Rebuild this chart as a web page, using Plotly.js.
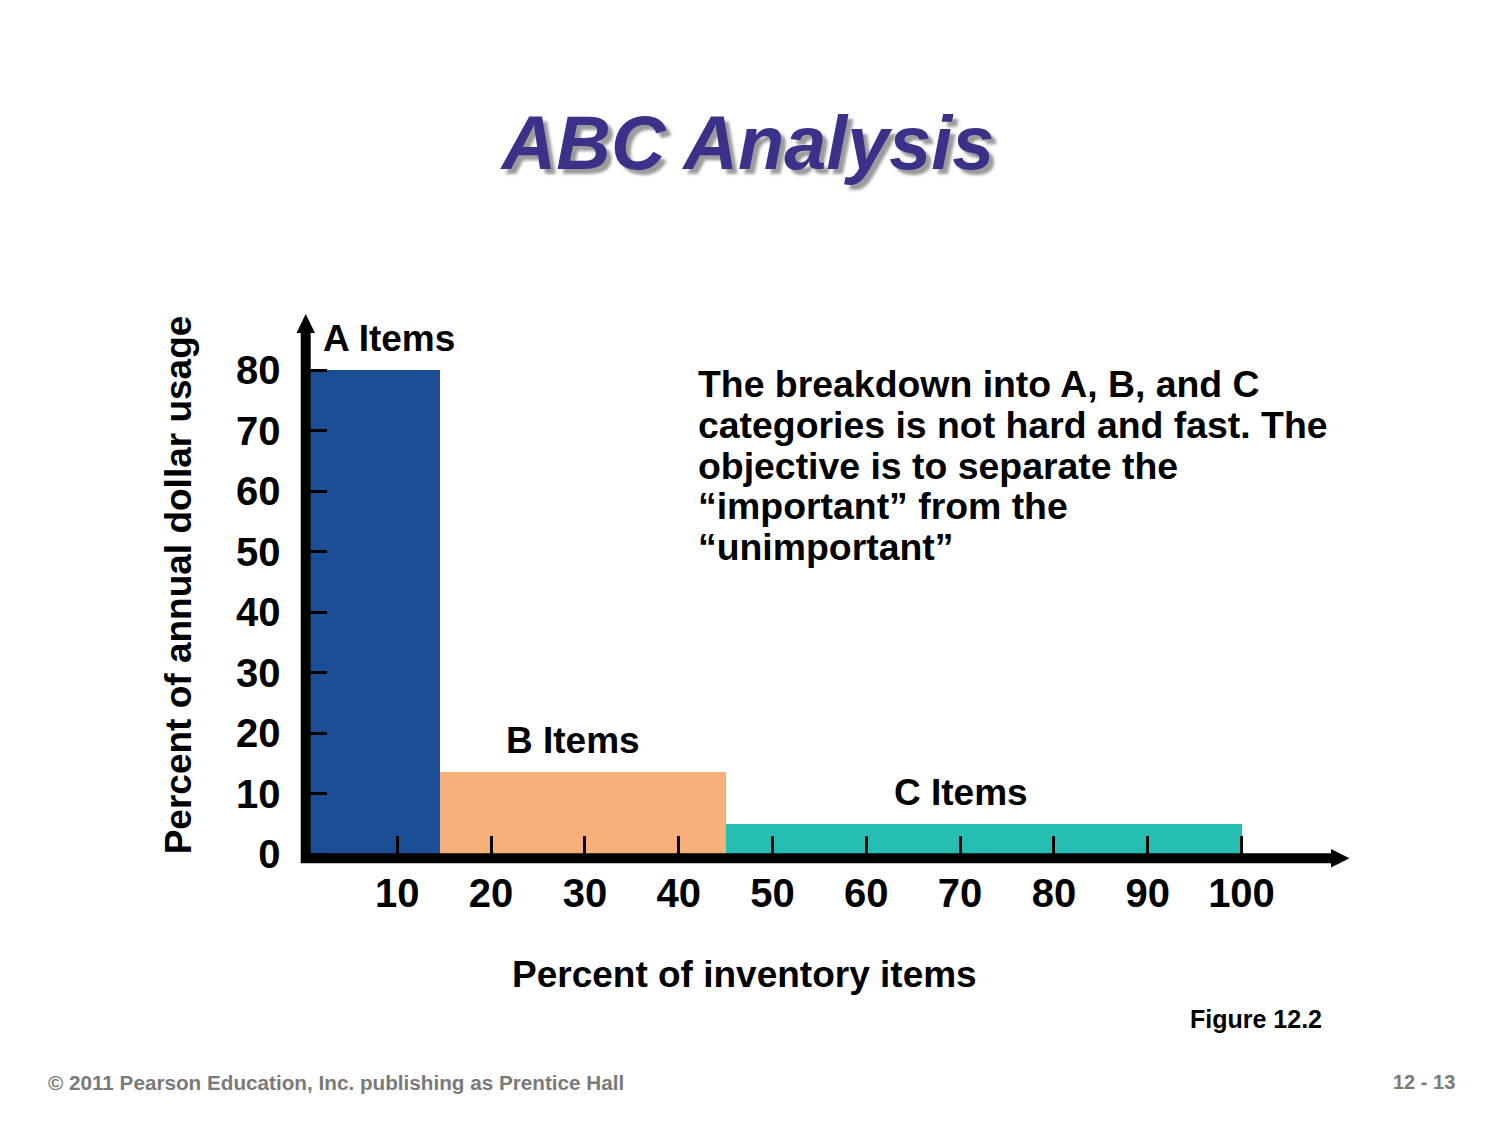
<!DOCTYPE html>
<html>
<head>
<meta charset="utf-8">
<script src="https://cdn.plot.ly/plotly-3.0.1.min.js"></script>
<style>html,body{margin:0;padding:0;background:#fff;}#chart{width:1500px;height:1125px;}</style>
</head>
<body>
<div id="chart"></div>
<script>
// ---- data ----
const groups = ['A Items', 'B Items', 'C Items'];
const boundaries = [0, 14.5, 45, 100];          // percent of inventory items (cumulative)
const usage = [80, 13.5, 5];                    // percent of annual dollar usage
const barColors = ['#1b4e94', '#f8b07a', '#26bdb2'];
const xTickVals = [10, 20, 30, 40, 50, 60, 70, 80, 90, 100];
const xTickText = ['10', '20', '30', '40', '50', '60', '70', '80', '90', '100'];
const yTickVals = [0, 10, 20, 30, 40, 50, 60, 70, 80];
const yTickText = ['0', '10', '20', '30', '40', '50', '60', '70', '80'];
const noteLines = [
  'The breakdown into A, B, and C',
  'categories is not hard and fast. The',
  'objective is to separate the',
  '\u201cimportant\u201d from the',
  '\u201cunimportant\u201d'
];

// ---- geometry helpers (pixel layout) ----
const L = 290, T = 300, W = 1070, H = 570;
const X0 = 303.5, XPU = 9.38, Y0 = 854, YPU = 6.05;
const dx = px => (px - X0) / XPU;
const dy = py => (Y0 - py) / YPU;
const pX = px => (px - L) / W;
const pY = py => (T + H - py) / H;

const FONT = 'Liberation Sans, Arial, sans-serif';

const centers = usage.map((_, i) => (boundaries[i] + boundaries[i + 1]) / 2);
const widths = usage.map((_, i) => boundaries[i + 1] - boundaries[i]);

const trace = {
  type: 'bar',
  x: centers,
  y: usage,
  width: widths,
  text: groups,
  textposition: 'none',
  marker: { color: barColors, line: { width: 0 } },
  hoverinfo: 'none',
  showlegend: false
};

const labelPos = [
  { x: 321, y: 338, anchor: 'left' },
  { x: 573, y: 740, anchor: 'center' },
  { x: 961, y: 792, anchor: 'center' }
];

const annotations = [];
groups.forEach((g, i) => {
  annotations.push({
    xref: 'paper', yref: 'paper', x: pX(labelPos[i].x), y: pY(labelPos[i].y),
    xanchor: labelPos[i].anchor, yanchor: 'middle', showarrow: false,
    text: g, font: { family: FONT, size: 37, color: '#000', weight: 'bold' }
  });
});
noteLines.forEach((t, i) => {
  annotations.push({
    xref: 'paper', yref: 'paper', x: pX(696), y: pY(384 + i * 40.8),
    xanchor: 'left', yanchor: 'middle', showarrow: false, align: 'left',
    text: t, font: { family: FONT, size: 37.4, color: '#000', weight: 'bold' }
  });
});
annotations.push({
  xref: 'paper', yref: 'paper', x: pX(744), y: pY(974),
  xanchor: 'center', yanchor: 'middle', showarrow: false,
  text: 'Percent of inventory items', font: { family: FONT, size: 37, color: '#000', weight: 'bold' }
});
annotations.push({
  xref: 'paper', yref: 'paper', x: pX(1324), y: pY(1019),
  xanchor: 'right', yanchor: 'middle', showarrow: false,
  text: 'Figure 12.2', font: { family: FONT, size: 25, color: '#000', weight: 'bold' }
});
annotations.push({
  xref: 'paper', yref: 'paper', x: pX(46), y: pY(1082),
  xanchor: 'left', yanchor: 'middle', showarrow: false,
  text: '\u00a9 2011 Pearson Education, Inc. publishing as Prentice Hall',
  font: { family: FONT, size: 20.7, color: '#7a7a7a', weight: 'bold' }
});
annotations.push({
  xref: 'paper', yref: 'paper', x: pX(1457), y: pY(1082),
  xanchor: 'right', yanchor: 'middle', showarrow: false,
  text: '12 - 13', font: { family: FONT, size: 20, color: '#7a7a7a', weight: 'bold' }
});

const shapes = [
  { type: 'line', xref: 'x', yref: 'y', x0: dx(305.7), x1: dx(305.7), y0: dy(863), y1: dy(331),
    line: { color: '#000', width: 10 } },
  { type: 'path', xref: 'x', yref: 'y',
    path: `M ${dx(296.5)},${dy(333)} L ${dx(305.7)},${dy(314)} L ${dx(315)},${dy(333)} Z`,
    fillcolor: '#000', line: { width: 0 } },
  { type: 'line', xref: 'x', yref: 'y', x0: dx(301), x1: dx(1334), y0: dy(858.3), y1: dy(858.3),
    line: { color: '#000', width: 10 } },
  { type: 'path', xref: 'x', yref: 'y',
    path: `M ${dx(1331)},${dy(849)} L ${dx(1349.5)},${dy(858.3)} L ${dx(1331)},${dy(867.5)} Z`,
    fillcolor: '#000', line: { width: 0 } }
];

const layout = {
  width: 1500, height: 1125,
  paper_bgcolor: '#fff', plot_bgcolor: 'rgba(0,0,0,0)',
  margin: { l: L, r: 1500 - L - W, t: T, b: 1125 - T - H, pad: 0 },
  title: {
    text: 'ABC Analysis',
    x: 748 / 1500, xref: 'container', xanchor: 'center',
    y: 1 - 143 / 1125, yref: 'container', yanchor: 'middle',
    font: { family: FONT, size: 75.5, color: '#3a3188', weight: 'bold', style: 'italic',
            shadow: '5px 5px 3px rgba(130,130,130,0.8)' }
  },
  xaxis: {
    range: [dx(L), dx(L + W)],
    anchor: 'free', position: pY(Y0),
    tickvals: xTickVals, ticktext: xTickText,
    ticks: 'inside', ticklen: 18, tickwidth: 3, tickcolor: '#000',
    ticklabelstandoff: 12,
    tickfont: { family: FONT, size: 40, color: '#000', weight: 'bold' },
    showgrid: false, zeroline: false, showline: false, automargin: false, fixedrange: true
  },
  yaxis: {
    range: [dy(T + H), dy(T)],
    anchor: 'free', position: pX(X0),
    tickvals: yTickVals, ticktext: yTickText,
    ticks: 'inside', ticklen: 22, tickwidth: 3, tickcolor: '#000',
    ticklabelstandoff: 23,
    tickfont: { family: FONT, size: 40, color: '#000', weight: 'bold' },
    title: { text: 'Percent of annual dollar usage', standoff: 32,
             font: { family: FONT, size: 37, color: '#000', weight: 'bold' } },
    showgrid: false, zeroline: false, showline: false, automargin: false, fixedrange: true
  },
  bargap: 0,
  shapes: shapes,
  annotations: annotations
};

Plotly.newPlot('chart', [trace], layout, { displayModeBar: false, staticPlot: true });
</script>
</body>
</html>
